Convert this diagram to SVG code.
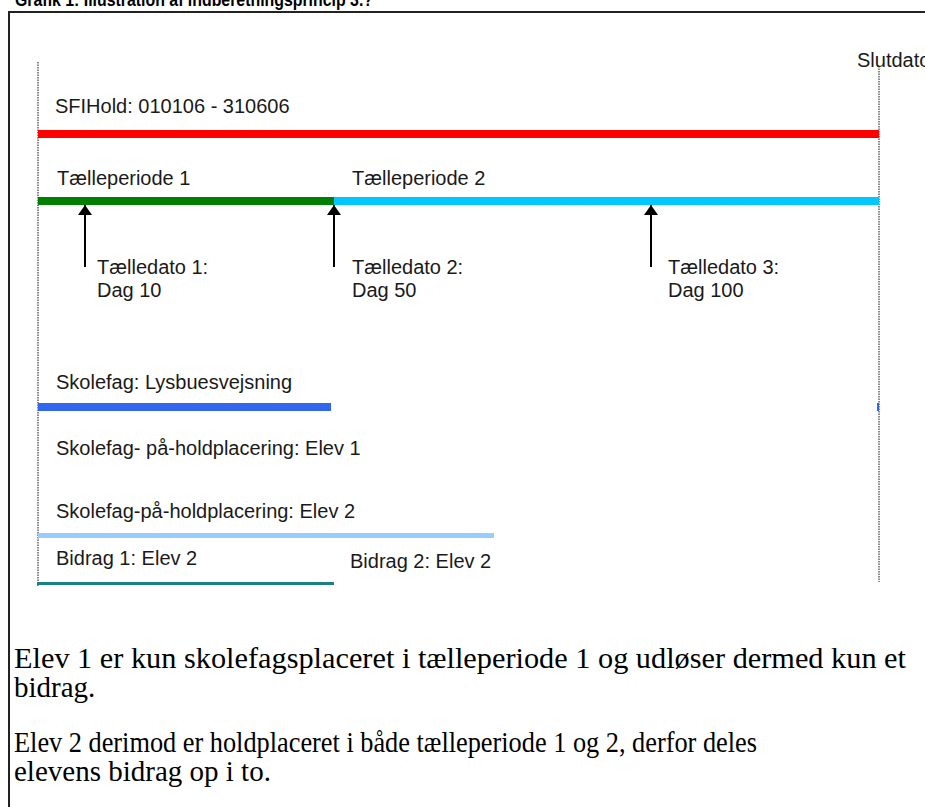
<svg xmlns="http://www.w3.org/2000/svg" width="925" height="807" viewBox="0 0 925 807">
<style>
.l{font-family:"Liberation Sans",Arial,sans-serif;font-size:20px;fill:#1a1a1a}
.t{font-family:"Liberation Serif","Times New Roman",serif;font-size:29px;fill:#000}
.dot{stroke:#888;stroke-width:2;stroke-dasharray:1.5 1}
.arr{stroke:#000;stroke-width:2;fill:none}
</style>
<defs>
<marker id="ah" viewBox="0 0 10 14" refX="10" refY="7" markerWidth="10" markerHeight="14" markerUnits="userSpaceOnUse" orient="auto">
<path d="M0,0 L10,7 L0,14 Z" fill="#000"/>
</marker>
</defs>
<rect width="925" height="807" fill="#fff"/>
<text x="15" y="6" textLength="358" lengthAdjust="spacingAndGlyphs" style="font-family:'Liberation Sans',Arial,sans-serif;font-size:19px;font-weight:bold" fill="#000">Grafik 1: Illustration af indberetningsprincip 3.?</text>
<rect x="9" y="12" width="930" height="820" fill="none" stroke="#222" stroke-width="2"/>
<g id="axes">
<line class="dot" x1="38" y1="62" x2="38" y2="586"/>
<line class="dot" x1="879" y1="66" x2="879" y2="582"/>
</g>
<g id="sfihold">
<text class="l" x="55" y="113">SFIHold: 010106 - 310606</text>
<rect x="38" y="130" width="841" height="8" fill="#ff0000"/>
</g>
<g id="slutdato"><text class="l" x="857" y="67">Slutdato</text></g>
<g id="periode1">
<text class="l" x="57" y="185">Tælleperiode 1</text>
<rect x="38" y="197" width="296" height="8" fill="#007f00"/>
</g>
<g id="periode2">
<text class="l" x="352" y="185">Tælleperiode 2</text>
<rect x="334" y="197" width="545" height="8" fill="#00c8ff"/>
</g>
<g id="connectors">
<line class="arr" x1="85" y1="267" x2="85" y2="205" marker-end="url(#ah)"/>
<line class="arr" x1="334" y1="267" x2="334" y2="205" marker-end="url(#ah)"/>
<line class="arr" x1="651" y1="267" x2="651" y2="205" marker-end="url(#ah)"/>
</g>
<g id="dato1"><text class="l" x="97" y="274">Tælledato 1:</text><text class="l" x="97" y="297">Dag 10</text></g>
<g id="dato2"><text class="l" x="352" y="274">Tælledato 2:</text><text class="l" x="352" y="297">Dag 50</text></g>
<g id="dato3"><text class="l" x="668" y="274">Tælledato 3:</text><text class="l" x="668" y="297">Dag 100</text></g>
<g id="skolefag">
<text class="l" x="56" y="389">Skolefag: Lysbuesvejsning</text>
<rect x="38" y="403" width="293" height="8" fill="#3366f0"/>
<rect x="877" y="403" width="2" height="8" fill="#3366f0"/>
</g>
<g id="elev1"><text class="l" x="56" y="455">Skolefag- på-holdplacering: Elev 1</text></g>
<g id="elev2">
<text class="l" x="56" y="518">Skolefag-på-holdplacering: Elev 2</text>
<rect x="38" y="533" width="456" height="5" fill="#99ccff"/>
</g>
<g id="bidrag1">
<text class="l" x="56" y="565">Bidrag 1: Elev 2</text>
<rect x="37" y="582" width="297" height="3" fill="#1a8080"/>
</g>
<g id="bidrag2"><text class="l" x="350" y="568">Bidrag 2: Elev 2</text></g>
<g id="forklaring">
<text class="t" x="14" y="668" textLength="892" lengthAdjust="spacingAndGlyphs">Elev 1 er kun skolefagsplaceret i tælleperiode 1 og udløser dermed kun et</text>
<text class="t" x="14" y="697">bidrag.</text>
<text class="t" x="14" y="752" textLength="743" lengthAdjust="spacingAndGlyphs">Elev 2 derimod er holdplaceret i både tælleperiode 1 og 2, derfor deles</text>
<text class="t" x="14" y="781">elevens bidrag op i to.</text>
</g>
</svg>
